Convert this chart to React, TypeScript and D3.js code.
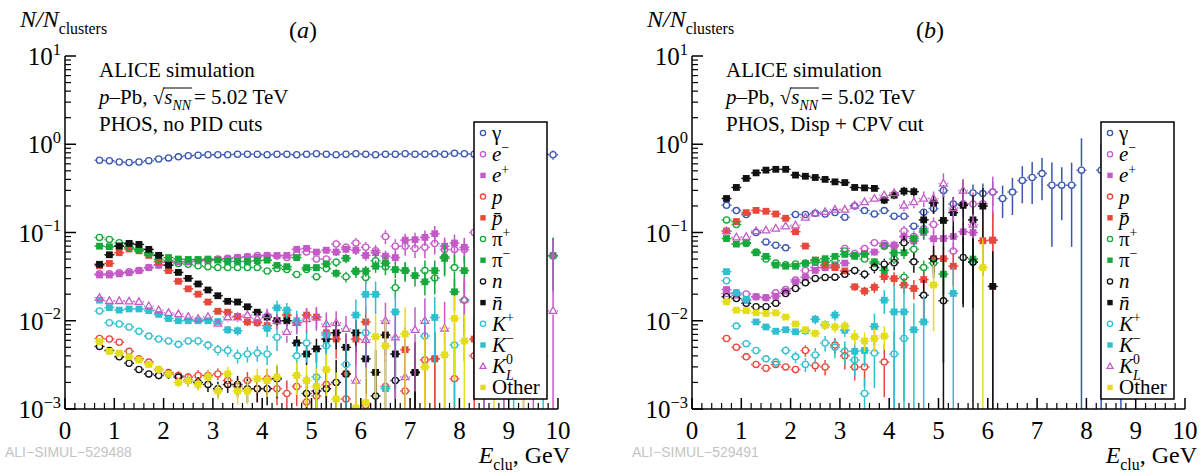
import { useRef, useEffect } from 'react'
import * as d3 from 'd3'

const _ = null

// cluster energy bin centres, GeV
const BINS = [
  0.7, 0.9, 1.1, 1.3, 1.5, 1.7, 1.9, 2.1, 2.3, 2.5, 2.7, 2.9, 3.1, 3.3, 3.5, 3.7, 3.9, 4.1, 4.3, 4.5, 4.7, 4.9, 5.1,
  5.3, 5.5, 5.7, 5.9, 6.1, 6.3, 6.5, 6.7, 6.9, 7.1, 7.3, 7.5, 7.7, 7.9, 8.1, 8.3, 8.5, 8.7, 8.9, 9.1, 9.3, 9.5, 9.7,
  9.9,
]

const X_TICKS = [0, 1, 2, 3, 4, 5, 6, 7, 8, 9, 10]
const Y_TICKS = [1e-3, 1e-2, 1e-1, 1, 10]
const Y_TICK_EXP = ['−3', '−2', '−1', '0', '1']

// ---------- panel (a): no PID cuts (values + relative errors) ----------
const A_GAMMA = [
  0.66, 0.65, 0.63, 0.62, 0.63, 0.65, 0.68, 0.7, 0.72, 0.74, 0.75, 0.76, 0.76, 0.76, 0.77, 0.77, 0.77, 0.76, 0.77, 0.77,
  0.76, 0.77, 0.78, 0.77, 0.76, 0.77, 0.78, 0.77, 0.76, 0.77, 0.77, 0.78, 0.77, 0.77, 0.78, 0.77, 0.79, 0.78, 0.77, 0.78,
  0.77, 0.78, 0.77, 0.78, 0.77, 0.78, 0.76,
]
const A_GAMMA_ERR = [
  0.01, 0.01, 0.01, 0.01, 0.01, 0.01, 0.01, 0.01, 0.01, 0.01, 0.01, 0.01, 0.01, 0.01, 0.01, 0.01, 0.01, 0.012, 0.012,
  0.012, 0.014, 0.014, 0.015, 0.016, 0.017, 0.018, 0.02, 0.02, 0.022, 0.024, 0.026, 0.028, 0.03, 0.032, 0.034, 0.036,
  0.04, 0.045, 0.05, 0.05, 0.06, 0.06, 0.07, 0.08, 0.09, 0.1, 0.12,
]
const A_EMINUS = [
  0.034, 0.034, 0.035, 0.036, 0.037, 0.04, 0.043, 0.046, 0.047, 0.047, 0.048, 0.049, 0.05, 0.051, 0.052, 0.053, 0.055,
  0.055, 0.054, 0.052, 0.056, 0.06, 0.05, 0.05, 0.074, 0.068, 0.076, 0.068, 0.062, 0.09, 0.07, 0.07, 0.066, 0.068, 0.075,
  0.064, 0.064, 0.064, 0.1,
]
const A_EMINUS_ERR = [
  0.02, 0.02, 0.02, 0.02, 0.02, 0.02, 0.02, 0.02, 0.025, 0.025, 0.03, 0.03, 0.03, 0.035, 0.04, 0.045, 0.05, 0.06, 0.06,
  0.07, 0.08, 0.08, 0.1, 0.1, 0.12, 0.12, 0.14, 0.15, 0.16, 0.18, 0.2, 0.22, 0.22, 0.25, 0.25, 0.3, 0.3, 0.3, 0.35,
]
const A_EPLUS = [
  0.033, 0.033, 0.034, 0.035, 0.037, 0.04, 0.0425, 0.046, 0.0465, 0.0465, 0.048, 0.048, 0.0495, 0.05, 0.052, 0.053, 0.053,
  0.055, 0.055, 0.055, 0.0645, 0.066, 0.06, 0.063, 0.06, 0.0645, 0.063, 0.055, 0.059, 0.054, 0.052, 0.082, 0.083, 0.088,
  0.097, 0.07, 0.076, 0.068, _, 0.08, _, 0.07, _, _, 0.09, _, 0.055,
]
const A_EPLUS_ERR = [
  0.02, 0.02, 0.02, 0.02, 0.02, 0.02, 0.02, 0.02, 0.02, 0.02, 0.025, 0.025, 0.03, 0.03, 0.035, 0.04, 0.045, 0.05, 0.05,
  0.06, 0.07, 0.07, 0.08, 0.09, 0.1, 0.1, 0.12, 0.13, 0.14, 0.15, 0.16, 0.18, 0.2, 0.2, 0.22, 0.25, 0.25, 0.28, 0, 1.5, 0,
  1.5, 0, 0, 1.5, 0, 0.6,
]
const A_P = [
  0.0063, 0.0062, 0.0057, 0.0045, 0.0037, 0.0034, 0.0028, 0.0026, 0.0024, 0.0023, 0.0024, 0.0024, 0.0025, 0.0021, 0.0018,
  0.0021, 0.0017, 0.0022, 0.0017, 0.0015, 0.0018, 0.0012, 0.0014, 0.0019, _, 0.0013, _, 0.0011, _, 0.0018, _, 0.0016, _,
  0.0036, 0.0037, _, 0.0022, _, 0.004,
]
const A_P_ERR = [
  0.04, 0.04, 0.05, 0.06, 0.07, 0.08, 0.1, 0.1, 0.12, 0.12, 0.15, 0.15, 0.15, 0.2, 0.25, 0.25, 0.3, 0.3, 0.35, 0.4, 0.4,
  0.5, 0.5, 0.6, 0, 0.8, 0, 1.0, 0, 1.0, 0, 1.2, 0, 1.0, 1.0, 0, 1.2, 0, 1.5,
]
const A_PBAR = [
  0.042, 0.0446, 0.059, 0.065, 0.062, 0.055, 0.0465, 0.037, 0.028, 0.023, 0.02, 0.0163, 0.0128, 0.0125, 0.0112, 0.0097,
  0.0095, 0.0088, 0.01, 0.0116, 0.0095, 0.0116, 0.011, 0.0073, 0.0062, 0.0025, 0.0062, 0.0097, _, _, _, 0.0047, 0.0026, _,
  0.0037, _, _, _, 0.0062,
]
const A_PBAR_ERR = [
  0.02, 0.02, 0.02, 0.02, 0.02, 0.025, 0.03, 0.03, 0.035, 0.04, 0.05, 0.05, 0.06, 0.07, 0.08, 0.1, 0.1, 0.12, 0.15, 0.15,
  0.2, 0.2, 0.25, 0.3, 0.4, 1.0, 0.5, 0.5, 0, 0, 0, 0.8, 1.2, 0, 1.0, 0, 0, 0, 0.8,
]
const A_PIPLUS = [
  0.088, 0.0835, 0.0764, 0.068, 0.063, 0.057, 0.0495, 0.048, 0.0446, 0.0436, 0.042, 0.041, 0.04, 0.04, 0.04, 0.04, 0.04,
  0.0366, 0.039, 0.038, 0.0334, 0.038, 0.0316, 0.039, 0.046, 0.0316, 0.036, 0.031, 0.048, 0.041, 0.0237, 0.037, _, 0.037,
  0.0305, 0.053, 0.04, 0.0171, _, _, _, _, _, _, _, _, 0.054,
]
const A_PIPLUS_ERR = [
  0.02, 0.02, 0.02, 0.02, 0.02, 0.02, 0.02, 0.02, 0.025, 0.025, 0.03, 0.03, 0.03, 0.035, 0.04, 0.04, 0.05, 0.05, 0.06,
  0.07, 0.08, 0.09, 0.1, 0.1, 0.12, 0.14, 0.15, 0.16, 0.18, 0.2, 0.25, 0.25, 0, 0.3, 0.35, 0.4, 0.4, 0.6, 0, 0, 0, 0, 0,
  0, 0, 0, 0.6,
]
const A_PIMINUS = [
  0.07, 0.069, 0.07, 0.074, 0.065, 0.059, 0.055, 0.052, 0.05, 0.0495, 0.0495, 0.05, 0.0486, 0.047, 0.047, 0.047, 0.048,
  0.0486, 0.0425, 0.041, 0.052, 0.04, 0.04, 0.044, 0.0345, 0.051, 0.0366, 0.0366, 0.0415, 0.045, 0.038, 0.037, 0.0325,
  0.0276, 0.037, 0.051, 0.0213, 0.037,
]
const A_PIMINUS_ERR = [
  0.02, 0.02, 0.02, 0.02, 0.02, 0.02, 0.02, 0.02, 0.02, 0.02, 0.025, 0.025, 0.03, 0.03, 0.035, 0.04, 0.04, 0.05, 0.06,
  0.06, 0.07, 0.08, 0.09, 0.1, 0.11, 0.12, 0.13, 0.14, 0.16, 0.18, 0.2, 0.22, 0.25, 0.3, 0.3, 0.35, 0.4, 0.45,
]
const A_N = [
  0.0051, 0.0046, 0.0039, 0.0033, 0.0028, 0.0025, 0.0024, 0.0025, 0.0023, 0.0021, 0.002, 0.0019, 0.0017, 0.0019, 0.0019,
  0.0017, 0.0017, 0.0017, 0.0022, _, _, 0.0015, 0.0016, 0.0017, 0.002, 0.0025, _, _, 0.0014, _, 0.0021, _, 0.0026,
]
const A_N_ERR = [
  0.05, 0.05, 0.06, 0.07, 0.08, 0.1, 0.1, 0.12, 0.12, 0.14, 0.15, 0.18, 0.2, 0.2, 0.25, 0.3, 0.3, 0.35, 0.4, 0, 0, 0.6,
  0.6, 0.7, 0.8, 0.8, 0, 0, 1.0, 0, 1.0, 0, 1.2,
]
const A_NBAR = [
  0.0436, 0.0559, 0.0702, 0.0753, 0.0733, 0.0644, 0.0551, 0.0427, 0.0353, 0.0302, 0.0261, 0.0223, 0.0192, 0.0166, 0.0163,
  0.0144, 0.0125, 0.011, 0.01, 0.01, 0.0056, 0.0042, 0.0048, 0.0062, 0.0073, 0.005, 0.0073, 0.0037, 0.0026, 0.0069,
  0.0042, _, 0.0026,
]
const A_NBAR_ERR = [
  0.02, 0.02, 0.02, 0.02, 0.02, 0.02, 0.025, 0.03, 0.03, 0.035, 0.04, 0.045, 0.05, 0.06, 0.06, 0.07, 0.08, 0.1, 0.12,
  0.14, 0.2, 0.25, 0.3, 0.3, 0.35, 0.4, 0.4, 0.6, 0.8, 0.5, 0.6, 0, 1.0,
]
const A_KPLUS = [
  0.0129, 0.0095, 0.0092, 0.0085, 0.0076, 0.0067, 0.0062, 0.0059, 0.0054, 0.0059, 0.0059, 0.0053, 0.0047, 0.0046, 0.004,
  0.0042, 0.0043, 0.0042, 0.0065, _, 0.004, 0.0056, 0.0023, 0.0052, _, 0.0032, _, 0.0073, _, _, _, _, _, 0.0067, _, _,
  0.0053,
]
const A_KPLUS_ERR = [
  0.05, 0.05, 0.06, 0.06, 0.07, 0.08, 0.09, 0.1, 0.1, 0.1, 0.12, 0.12, 0.14, 0.15, 0.18, 0.2, 0.2, 0.25, 0.3, 0, 0.4, 0.4,
  1.0, 0.5, 0, 0.8, 0, 0.5, 0, 0, 0, 0, 0, 0.6, 0, 0, 0.8,
]
const A_KMINUS = [
  0.0171, 0.0141, 0.0132, 0.0136, 0.0136, 0.013, 0.0118, 0.0106, 0.01, 0.01, 0.01, 0.01, 0.0098, 0.0079, 0.0077, _, _,
  0.0082, 0.014, 0.0132, 0.01, _, _, 0.0069, _, _, 0.0116, 0.0199, 0.0199, 0.0017, 0.0126, _, _, _, 0.0109, _, _, _, _,
  0.005, _, _, 0.003, _, _, 0.004,
]
const A_KMINUS_ERR = [
  0.03, 0.03, 0.03, 0.03, 0.04, 0.04, 0.05, 0.05, 0.06, 0.06, 0.07, 0.08, 0.09, 0.1, 0.12, 0, 0, 0.2, 0.2, 0.2, 0.3, 0, 0,
  0.4, 0, 0, 0.5, 0.4, 0.4, 1.0, 0.6, 0, 0, 0, 0.7, 0, 0, 0, 0, 1.5, 0, 0, 1.5, 0, 0, 1.5,
]
const A_K0L = [
  0.0182, 0.0168, 0.0168, 0.0166, 0.0164, 0.0147, 0.0132, 0.0123, 0.0119, 0.0111, 0.0105, 0.0111, 0.0093, 0.011, 0.011,
  0.0116, 0.0106, 0.0116, 0.01, 0.0075, 0.0095, 0.0105, 0.011, 0.0092, 0.0095, 0.0081, 0.0021, 0.0061, _, 0.01, 0.0065,
  0.0023, 0.0079, 0.01, _, 0.0082, _, 0.0174, _, 0.006, _, 0.004, _, 0.005, _, _, 0.013,
]
const A_K0L_ERR = [
  0.03, 0.03, 0.03, 0.03, 0.04, 0.04, 0.05, 0.05, 0.06, 0.07, 0.08, 0.09, 0.1, 0.11, 0.12, 0.14, 0.15, 0.18, 0.2, 0.25,
  0.25, 0.3, 0.3, 0.35, 0.35, 0.4, 1.5, 0.6, 0, 0.6, 0.8, 1.5, 0.8, 0.8, 0, 1.0, 0, 0.8, 0, 1.5, 0, 1.5, 0, 1.5, 0, 0, 5.3,
]
const A_OTHER = [
  0.0058, 0.0045, 0.0043, 0.0039, 0.0036, 0.0032, 0.0028, 0.0025, 0.002, 0.0021, 0.0019, 0.0023, 0.0016, 0.0025, 0.0016,
  0.0016, 0.0022, 0.0021, 0.0023, _, 0.0024, 0.0021, 0.0018, 0.0028, 0.0013, _, 0.00103, 0.00118, 0.0066, 0.0052, _,
  0.0071, _, 0.003, _, 0.0041, 0.0106, 0.0059, _, _, 0.004, _, _, 0.003,
]
const A_OTHER_ERR = [
  0.05, 0.06, 0.06, 0.07, 0.08, 0.08, 0.1, 0.1, 0.12, 0.14, 0.15, 0.18, 0.2, 0.2, 0.3, 0.3, 0.3, 0.35, 0.4, 0, 0.4, 0.5,
  0.6, 0.5, 1.0, 0, 1.2, 1.5, 0.8, 1.0, 0, 1.0, 0, 1.2, 0, 1.2, 0.8, 1.0, 0, 0, 1.5, 0, 0, 1.5,
]

// ---------- panel (b): Disp + CPV cut ----------
const B_GAMMA = [
  0.203, 0.177, 0.16, 0.1, 0.0783, 0.0716, 0.067, 0.16, 0.16, 0.165, 0.162, 0.168, 0.149, 0.2, 0.177, 0.162, 0.177, 0.153,
  0.153, 0.118, 0.17, 0.187, 0.3, 0.21, 0.21, 0.28, 0.276, 0.287, 0.243, 0.287, 0.389, 0.42, 0.465, 0.344, 0.344, 0.344,
  0.509, _, 0.509, _, 0.5,
]
const B_GAMMA_ERR = [
  0.02, 0.02, 0.03, 0.03, 0.04, 0.04, 0.05, 0.03, 0.03, 0.03, 0.04, 0.04, 0.05, 0.05, 0.06, 0.06, 0.07, 0.08, 0.08, 0.1,
  0.1, 0.12, 0.15, 0.18, 0.2, 0.25, 0.3, 0.3, 0.4, 0.45, 0.45, 0.5, 0.5, 0.8, 0.6, 0.8, 1.3, 0, 1.0, 0, 1.5,
]
const B_EMINUS = [
  0.0203, 0.0207, 0.0201, 0.0187, 0.0182, 0.0207, 0.0226, 0.0289, 0.0372, 0.04, 0.04, 0.0427, 0.066, 0.058, 0.066, 0.0765,
  0.075, 0.07, 0.104, 0.09, 0.11, 0.123, _, 0.0617, 0.21, 0.21, 0.212, 0.287,
]
const B_EMINUS_ERR = [
  0.03, 0.03, 0.03, 0.03, 0.03, 0.03, 0.03, 0.03, 0.04, 0.04, 0.05, 0.05, 0.06, 0.07, 0.08, 0.09, 0.1, 0.12, 0.15, 0.15,
  0.2, 0.2, 0, 0.25, 0.3, 0.35, 0.4, 0.5,
]
const B_EPLUS = [
  0.0226, 0.0195, 0.017, 0.0187, 0.0183, 0.019, 0.0217, 0.0276, 0.0311, 0.0372, 0.04, 0.041, 0.045, 0.055, 0.058, 0.06,
  0.0716, 0.072, 0.09, 0.08, 0.1, 0.085, 0.0855, 0.09, 0.102, 0.1, _, 0.0817,
]
const B_EPLUS_ERR = [
  0.03, 0.03, 0.03, 0.03, 0.03, 0.03, 0.03, 0.03, 0.04, 0.04, 0.05, 0.05, 0.06, 0.07, 0.08, 0.09, 0.1, 0.12, 0.14, 0.15,
  0.18, 0.2, 0.25, 0.3, 0.3, 0.35, 0, 1.2,
]
const B_P = [
  0.0063, 0.005, 0.0039, 0.0032, 0.0029, 0.0032, 0.003, 0.0028, 0.0046, 0.0031, 0.003, 0.0053, 0.004, 0.003, 0.003, _,
  0.0034,
]
const B_P_ERR = [0.05, 0.06, 0.07, 0.08, 0.08, 0.08, 0.09, 0.1, 0.15, 0.15, 0.2, 0.2, 0.3, 0.3, 0.4, 0, 0.6]
const B_PBAR = [
  0.104, 0.133, 0.168, 0.178, 0.174, 0.162, 0.145, 0.102, 0.0702, 0.0486, 0.0427, 0.04, 0.0367, 0.0242, 0.0217, 0.0239,
  0.0316, 0.03, 0.0254, 0.0232, 0.0293, 0.0505, 0.0505, 0.0415, _, _, 0.0806, 0.082,
]
const B_PBAR_ERR = [
  0.02, 0.02, 0.02, 0.02, 0.02, 0.02, 0.02, 0.03, 0.04, 0.05, 0.06, 0.07, 0.08, 0.1, 0.12, 0.14, 0.15, 0.18, 0.2, 0.25,
  0.3, 0.3, 0.35, 0.4, 0, 0, 0.6, 1.0,
]
const B_PIPLUS = [
  0.139, 0.123, 0.075, 0.06, 0.05, 0.045, 0.043, 0.044, 0.045, 0.046, 0.046, 0.048, 0.0617, 0.055, 0.05, 0.0446, 0.07,
  0.05, 0.0312, 0.0645, 0.04, 0.045, _, _, _, 0.0465,
]
const B_PIPLUS_ERR = [
  0.02, 0.02, 0.02, 0.03, 0.03, 0.03, 0.03, 0.03, 0.04, 0.04, 0.05, 0.05, 0.06, 0.07, 0.08, 0.1, 0.1, 0.12, 0.15, 0.15,
  0.2, 0.25, 0, 0, 0, 0.4,
]
const B_PIMINUS = [
  0.0855, 0.0739, 0.0765, 0.0589, 0.0537, 0.0427, 0.0415, 0.0415, 0.0446, 0.0486, 0.0505, 0.0537, 0.0565, 0.0537, 0.0565,
  0.0465, 0.0372, 0.059, 0.059, 0.0855, 0.104, _, 0.0337, _, _, 0.05,
]
const B_PIMINUS_ERR = [
  0.02, 0.02, 0.02, 0.03, 0.03, 0.03, 0.03, 0.03, 0.04, 0.04, 0.05, 0.05, 0.06, 0.07, 0.08, 0.1, 0.12, 0.12, 0.15, 0.15,
  0.2, 0, 0.4, 0, 0, 0.5,
]
const B_N = [
  0.0187, 0.0179, 0.0158, 0.0144, 0.0144, 0.0158, 0.0204, 0.0232, 0.027, 0.0302, 0.031, 0.0312, 0.0337, 0.0372, 0.0337,
  0.04, 0.0438, 0.0455, 0.0765, 0.0465, 0.0194, 0.0505, 0.0168, _, 0.052, 0.046,
]
const B_N_ERR = [
  0.03, 0.03, 0.03, 0.03, 0.04, 0.04, 0.04, 0.05, 0.05, 0.05, 0.06, 0.07, 0.08, 0.1, 0.12, 0.14, 0.15, 0.18, 0.2, 0.25,
  0.5, 0.4, 0.8, 0, 0.7, 1.2,
]
const B_NBAR = [
  0.243, 0.324, 0.41, 0.474, 0.509, 0.52, 0.52, 0.447, 0.434, 0.42, 0.4, 0.375, 0.368, 0.324, 0.32, 0.316, 0.233, 0.265,
  0.294, 0.29, 0.139, 0.216, 0.137, 0.168, 0.203, 0.139, 0.199, 0.0245,
]
const B_NBAR_ERR = [
  0.02, 0.02, 0.02, 0.02, 0.02, 0.02, 0.02, 0.02, 0.02, 0.02, 0.02, 0.03, 0.03, 0.04, 0.05, 0.06, 0.1, 0.1, 0.12, 0.12,
  0.3, 0.25, 1.0, 0.5, 0.93, 0.9, 0.6, 1.5,
]
const B_KPLUS = [
  0.0284, 0.0087, 0.0055, 0.0046, 0.0037, 0.0034, 0.0046, 0.0039, 0.0032, 0.0041, 0.0056, 0.005, 0.0045, 0.0036, 0.0015,
  0.0043, _, 0.0042, 0.0063,
]
const B_KPLUS_ERR = [
  0.05, 0.07, 0.08, 0.1, 0.1, 0.12, 0.12, 0.15, 0.18, 0.2, 0.2, 0.25, 0.3, 0.35, 0.5, 0.6, 0, 0.8, 0.8,
]
const B_KMINUS = [
  0.036, 0.0207, 0.0175, 0.0097, 0.0085, 0.0076, 0.0079, 0.0075, 0.0077, 0.0104, 0.009, 0.0116, 0.0078, 0.0045, 0.0046,
  0.0086, 0.0171, 0.0126, 0.0126, 0.0079, 0.0097, _, _, 0.0204,
]
const B_KMINUS_ERR = [
  0.04, 0.04, 0.05, 0.06, 0.06, 0.07, 0.07, 0.08, 0.1, 0.12, 0.12, 0.14, 0.16, 0.3, 0.35, 0.4, 0.3, 1.0, 1.0, 1.0, 1.0, 0,
  0, 1.0,
]
const B_K0L = [
  0.104, 0.0885, 0.0893, 0.104, 0.106, 0.111, 0.118, 0.121, 0.148, 0.165, 0.172, 0.182, 0.182, 0.203, 0.222, 0.243, 0.265,
  0.28, 0.203, 0.222, 0.243, 0.243, 0.36, 0.19, 0.3, 0.123,
]
const B_K0L_ERR = [
  0.02, 0.02, 0.02, 0.02, 0.02, 0.03, 0.03, 0.03, 0.03, 0.04, 0.04, 0.05, 0.05, 0.06, 0.07, 0.08, 0.1, 0.12, 0.14, 0.15,
  0.2, 0.2, 0.3, 0.3, 0.35, 0.3,
]
const B_OTHER = [
  0.0164, 0.0132, 0.013, 0.0123, 0.0121, 0.0123, 0.011, 0.0092, 0.0079, 0.0072, 0.0089, 0.0085, 0.0087, 0.0066, 0.0059,
  0.0063, 0.0067, _, _, _, _, 0.0254, _, _, _, _, 0.04,
]
const B_OTHER_ERR = [
  0.04, 0.05, 0.05, 0.05, 0.06, 0.06, 0.07, 0.08, 0.1, 0.1, 0.12, 0.14, 0.15, 0.2, 0.25, 0.3, 0.3, 0, 0, 0, 0, 0.7, 0, 0,
  0, 0, 1.2,
]

// legend labels, in drawing order
type Seg = { t: string; it?: boolean; sup?: boolean; sub?: boolean; dx?: number }
const LABELS: Seg[][] = [
  [{ t: 'γ' }],
  [{ t: 'e', it: true }, { t: '−', sup: true }],
  [{ t: 'e', it: true }, { t: '+', sup: true }],
  [{ t: 'p', it: true }],
  [{ t: 'p\u0304', it: true }],
  [{ t: 'π' }, { t: '+', sup: true }],
  [{ t: 'π' }, { t: '−', sup: true }],
  [{ t: 'n', it: true }],
  [{ t: 'n\u0304', it: true }],
  [{ t: 'K', it: true }, { t: '+', sup: true }],
  [{ t: 'K', it: true }, { t: '−', sup: true }],
  [{ t: 'K', it: true }, { t: '0', sup: true }, { t: 'L', it: true, sub: true, dx: -7 }],
  [{ t: 'Other' }],
]

const BLUE = '#3a56b0'
const MAG = '#c45ac8'
const RED = '#e8483a'
const GREEN = '#17a83c'
const BLACK = '#111111'
const CYAN = '#2fbfcf'
const YELLOW = '#e4dd1c'

type Shape = 'circle' | 'square' | 'triangle'
const STYLES: { color: string; shape: Shape }[] = [
  { color: BLUE, shape: 'circle' },
  { color: MAG, shape: 'circle' },
  { color: MAG, shape: 'square' },
  { color: RED, shape: 'circle' },
  { color: RED, shape: 'square' },
  { color: GREEN, shape: 'circle' },
  { color: GREEN, shape: 'square' },
  { color: BLACK, shape: 'circle' },
  { color: BLACK, shape: 'square' },
  { color: CYAN, shape: 'circle' },
  { color: CYAN, shape: 'square' },
  { color: MAG, shape: 'triangle' },
  { color: YELLOW, shape: 'square' },
]

const FONT = "'Liberation Serif', 'DejaVu Serif', serif"

interface PanelDef {
  left: number
  tag: string
  cut: string
  watermark: string
  series: (number | null)[][][]
}

const PANEL_A: PanelDef = {
  left: 65,
  tag: 'a',
  cut: 'PHOS, no PID cuts',
  watermark: 'ALI−SIMUL−529488',
  series: [
    [A_GAMMA, A_GAMMA_ERR],
    [A_EMINUS, A_EMINUS_ERR],
    [A_EPLUS, A_EPLUS_ERR],
    [A_P, A_P_ERR],
    [A_PBAR, A_PBAR_ERR],
    [A_PIPLUS, A_PIPLUS_ERR],
    [A_PIMINUS, A_PIMINUS_ERR],
    [A_N, A_N_ERR],
    [A_NBAR, A_NBAR_ERR],
    [A_KPLUS, A_KPLUS_ERR],
    [A_KMINUS, A_KMINUS_ERR],
    [A_K0L, A_K0L_ERR],
    [A_OTHER, A_OTHER_ERR],
  ],
}

const PANEL_B: PanelDef = {
  left: 692,
  tag: 'b',
  cut: 'PHOS, Disp + CPV cut',
  watermark: 'ALI−SIMUL−529491',
  series: [
    [B_GAMMA, B_GAMMA_ERR],
    [B_EMINUS, B_EMINUS_ERR],
    [B_EPLUS, B_EPLUS_ERR],
    [B_P, B_P_ERR],
    [B_PBAR, B_PBAR_ERR],
    [B_PIPLUS, B_PIPLUS_ERR],
    [B_PIMINUS, B_PIMINUS_ERR],
    [B_N, B_N_ERR],
    [B_NBAR, B_NBAR_ERR],
    [B_KPLUS, B_KPLUS_ERR],
    [B_KMINUS, B_KMINUS_ERR],
    [B_K0L, B_K0L_ERR],
    [B_OTHER, B_OTHER_ERR],
  ],
}

type G = d3.Selection<SVGGElement, unknown, null, undefined>
type T = d3.Selection<SVGTextElement, unknown, null, undefined>

function serifText(parent: G | d3.Selection<SVGSVGElement, unknown, null, undefined>, x: number, y: number, size: number) {
  return (parent as G)
    .append('text')
    .attr('x', x)
    .attr('y', y)
    .style('font-family', FONT)
    .style('font-size', `${size}px`) as T
}

function rich(text: T, segs: Seg[], size: number) {
  let shift = 0
  segs.forEach((s) => {
    const target = s.sup ? -0.42 * size : s.sub ? 0.3 * size : 0
    const ts = text
      .append('tspan')
      .text(s.t)
      .attr('dy', target - shift)
    if (s.dx) ts.attr('dx', s.dx)
    if (s.it) ts.style('font-style', 'italic')
    if (s.sup || s.sub) ts.style('font-size', `${size * 0.66}px`)
    shift = target
  })
}

function marker(g: G, shape: Shape, color: string, cx: number, cy: number, s: number) {
  if (shape === 'circle') {
    g.append('circle')
      .attr('cx', cx)
      .attr('cy', cy)
      .attr('r', s)
      .attr('fill', 'none')
      .attr('stroke', color)
      .attr('stroke-width', 1.3)
  } else if (shape === 'square') {
    g.append('rect')
      .attr('x', cx - s)
      .attr('y', cy - s)
      .attr('width', 2 * s)
      .attr('height', 2 * s)
      .attr('fill', color)
      .attr('stroke', 'none')
  } else {
    const pts = [
      [cx, cy - s * 1.2],
      [cx - s * 1.15, cy + s * 0.8],
      [cx + s * 1.15, cy + s * 0.8],
    ]
    g.append('polygon')
      .attr('points', pts.map((p) => p.join(',')).join(' '))
      .attr('fill', 'none')
      .attr('stroke', color)
      .attr('stroke-width', 1.3)
  }
}

function drawPanel(svg: d3.Selection<SVGSVGElement, unknown, null, undefined>, p: PanelDef) {
  const L = p.left
  const x = d3.scaleLinear().domain([0, 10]).range([L, L + 493])
  const y = d3.scaleLog().domain([1e-3, 10]).range([409, 56])
  const [bottom, top] = y.range()

  const clipId = `clip-${p.tag}`
  svg
    .append('clipPath')
    .attr('id', clipId)
    .append('rect')
    .attr('x', L)
    .attr('y', top)
    .attr('width', 493)
    .attr('height', bottom - top)

  const plot = svg.append('g').attr('clip-path', `url(#${clipId})`)

  // histograms, one after the other
  p.series.forEach(([vals, errs], si) => {
    const st = STYLES[si]
    const g = plot.append('g').attr('stroke', st.color).attr('stroke-width', 1.5)
    const s = st.shape === 'circle' ? 3.1 : st.shape === 'square' ? 3.4 : 3.3
    const gap = st.shape === 'square' ? 0 : s + 0.6
    vals.forEach((v, i) => {
      if (v == null || v < 1e-3) return
      const r = (errs[i] as number) ?? 0
      const e = BINS[i]
      const cx = x(e)
      const cy = y(v)
      const hi = y(Math.min(v * (1 + r), 10))
      const loV = v * (1 - r)
      const lo = loV > 1e-3 ? y(loV) : bottom
      g.append('line').attr('x1', x(e - 0.1)).attr('x2', cx - gap).attr('y1', cy).attr('y2', cy)
      g.append('line').attr('x1', cx + gap).attr('x2', x(e + 0.1)).attr('y1', cy).attr('y2', cy)
      if (cy - hi > gap) g.append('line').attr('x1', cx).attr('x2', cx).attr('y1', hi).attr('y2', cy - gap)
      if (lo - cy > gap) g.append('line').attr('x1', cx).attr('x2', cx).attr('y1', cy + gap).attr('y2', lo)
      marker(g, st.shape, st.color, cx, cy, s)
    })
  })

  // axes
  const ax = svg.append('g').attr('stroke', '#000').attr('stroke-width', 1.5)
  ax.append('line').attr('x1', L).attr('x2', L).attr('y1', top).attr('y2', bottom)
  ax.append('line').attr('x1', L).attr('x2', x(10)).attr('y1', bottom).attr('y2', bottom)

  // y ticks (log, minor 2..9)
  Y_TICKS.forEach((t, k) => {
    ax.append('line').attr('x1', L).attr('x2', L + 11).attr('y1', y(t)).attr('y2', y(t))
    if (k < Y_TICKS.length - 1) {
      d3.range(2, 10).forEach((m) => {
        const yy = y(t * m)
        ax.append('line').attr('x1', L).attr('x2', L + 6).attr('y1', yy).attr('y2', yy).attr('stroke-width', 1.2)
      })
    }
    const lab = serifText(svg, L - 4, y(t) + 9, 25).attr('text-anchor', 'end')
    rich(lab, [{ t: '10' }, { t: Y_TICK_EXP[k], sup: true }], 25)
  })

  // x ticks, minor every 0.2
  d3.range(0, 50).forEach((k) => {
    const xx = x(k * 0.2)
    if (k % 5 !== 0)
      ax.append('line').attr('x1', xx).attr('x2', xx).attr('y1', bottom).attr('y2', bottom - 6).attr('stroke-width', 1.2)
  })
  X_TICKS.forEach((t) => {
    ax.append('line').attr('x1', x(t)).attr('x2', x(t)).attr('y1', bottom).attr('y2', bottom - 11)
    serifText(svg, x(t), 439, 25).attr('text-anchor', 'middle').text(String(t))
  })

  // axis titles
  const yt = serifText(svg, L - 45, 27, 24)
  rich(yt, [{ t: 'N/N', it: true }, { t: 'clusters', sub: true }], 24)

  const xt = serifText(svg, L + 505, 463, 24).attr('text-anchor', 'end')
  rich(xt, [{ t: 'E', it: true }, { t: 'clu', sub: true }, { t: ', GeV' }], 24)

  const tag = serifText(svg, L + 238, 38, 24).attr('text-anchor', 'middle')
  rich(tag, [{ t: '(' }, { t: p.tag, it: true }, { t: ')' }], 24)

  // header text
  const tx = L + 34
  serifText(svg, tx, 77, 21).text('ALICE simulation')
  const l2 = serifText(svg, tx, 104, 21)
  rich(l2, [{ t: 'p', it: true }, { t: '–Pb, √' }], 21)
  const w1 = (l2.node() as SVGTextElement).getComputedTextLength()
  const l2b = serifText(svg, tx + w1, 104, 21)
  rich(l2b, [{ t: 's', it: true }, { t: 'NN', it: true, sub: true }], 21)
  const w2 = (l2b.node() as SVGTextElement).getComputedTextLength()
  svg
    .append('line')
    .attr('x1', tx + w1 - 1)
    .attr('x2', tx + w1 + w2 + 1)
    .attr('y1', 88)
    .attr('y2', 88)
    .attr('stroke', '#000')
    .attr('stroke-width', 1)
  serifText(svg, tx + w1 + w2 + 3, 104, 21).text('= 5.02 TeV')
  serifText(svg, tx, 131, 21).text(p.cut)

  // watermark
  svg
    .append('text')
    .attr('x', L - 60)
    .attr('y', 457)
    .style('font-family', "'Liberation Sans', Arial, sans-serif")
    .style('font-size', '14px')
    .attr('fill', '#c4c4c4')
    .text(p.watermark)

  // legend
  const lx = L + 409
  const ly = 122
  const step = 21.2
  const leg = svg.append('g') as G
  leg
    .append('rect')
    .attr('x', lx)
    .attr('y', ly)
    .attr('width', 73)
    .attr('height', 277)
    .attr('fill', '#fff')
    .attr('stroke', '#000')
    .attr('stroke-width', 1.5)
  LABELS.forEach((segs, i) => {
    const cy = ly + 11 + step * i
    const st = STYLES[i]
    marker(leg, st.shape, st.color, lx + 9, cy, st.shape === 'square' ? 2.7 : 2.6)
    const t = serifText(leg, lx + 18, cy + 7, 21)
    rich(t, segs, 21)
  })
}

export default function App() {
  const ref = useRef<SVGSVGElement>(null)

  useEffect(() => {
    if (!ref.current) return
    const svg = d3.select(ref.current)
    svg.selectAll('*').remove()
    drawPanel(svg, PANEL_A)
    drawPanel(svg, PANEL_B)
    return () => {
      svg.selectAll('*').remove()
    }
  }, [])

  return (
    <div style={{ position: 'absolute', left: 0, top: 0 }}>
      <svg ref={ref} width={1202} height={474} style={{ display: 'block', background: '#fff' }} />
    </div>
  )
}
